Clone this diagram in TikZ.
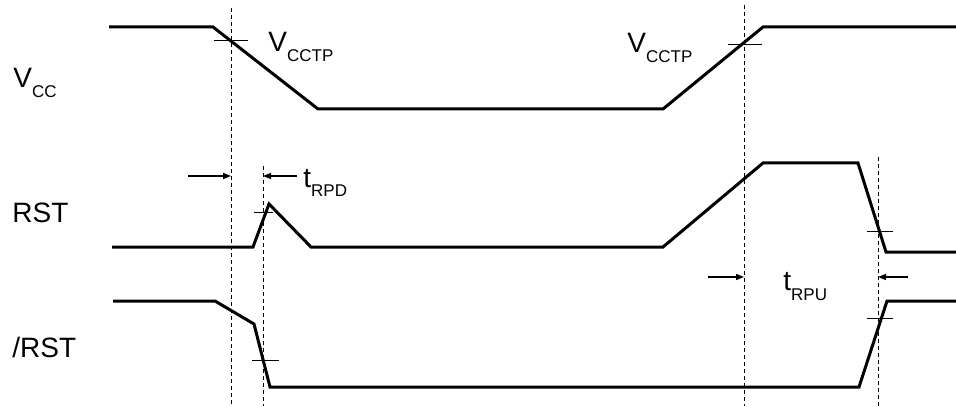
\documentclass[tikz,border=0pt]{standalone}
\usepackage{fontspec}
\setmainfont{Liberation Sans}
\usetikzlibrary{arrows.meta}
\newcommand{\lowsub}[1]{\raisebox{-5pt}{\fontsize{8.5}{10}\selectfont #1}}
\begin{document}
\begin{tikzpicture}[x=0.5pt, y=-0.5pt,
  wave/.style = {line width=1.5pt, line join=miter},
  guide/.style = {line width=0.5pt, dash pattern=on 2pt off 1.5pt},
  thr/.style = {line width=0.5pt},
  gap/.style = {line width=0.75pt, -{Triangle[length=4pt,width=3pt]}},
  lbl/.style = {anchor=base west, inner sep=0pt, font=\fontsize{14}{16}\selectfont}]
\useasboundingbox (0,0) rectangle (956,406);

% signal names
\node[lbl] (vcc) at (13,88)  {V\lowsub{CC}};
\node[lbl] (rst) at (12,222) {RST};
\node[lbl] (nrst) at (12,357) {/RST};

% waveforms
\draw[wave] (109,27) -- (213,27) -- (318,109) -- (663,109) -- (763,27) -- (956,27);
\draw[wave] (112,247) -- (253,247) -- (269,204) -- (311,247) -- (663,247)
  -- (763,163) -- (858,163) -- (886,252) -- (956,252);
\draw[wave] (113,301) -- (215,301) -- (254,324) -- (270,387) -- (859,387)
  -- (887,301) -- (956,301);

% threshold marks
\draw[thr] (214,41) -- (248,41);
\draw[thr] (728,45) -- (762,45);
\draw[thr] (254,212) -- (273,212);
\draw[thr] (867,231) -- (893,231);
\draw[thr] (252,360) -- (279,360);
\draw[thr] (867,318) -- (893,318);

% dashed guides
\coordinate (g1) at (231,8);   \coordinate (g1b) at (231,406);
\coordinate (g2) at (263,166); \coordinate (g2b) at (263,406);
\coordinate (g3) at (744,5);   \coordinate (g3b) at (744,406);
\coordinate (g4) at (878,157); \coordinate (g4b) at (878,406);
\draw[guide] (g1) -- (g1b);
\draw[guide] (g2) -- (g2b);
\draw[guide] (g3) -- (g3b);
\draw[guide] (g4) -- (g4b);

% trip point labels
\node[lbl] (vtp1) at (268,52) {V\lowsub{CCTP}};
\node[lbl] (vtp2) at (627,53) {V\lowsub{CCTP}};

% delays
\coordinate (a1) at (188,176); \coordinate (a2) at (297,176);
\coordinate (b1) at (708,277); \coordinate (b2) at (908,277);
\draw[gap] (a1) -- (a1 -| g1);
\draw[gap] (a2) -- (a2 -| g2);
\draw[gap] (b1) -- (b1 -| g3);
\draw[gap] (b2) -- (b2 -| g4);
\node[lbl] (trpd) at (303,187) {t\lowsub{RPD}};
\node[lbl] (trpu) at (783,290) {t\lowsub{RPU}};
\end{tikzpicture}
\end{document}
